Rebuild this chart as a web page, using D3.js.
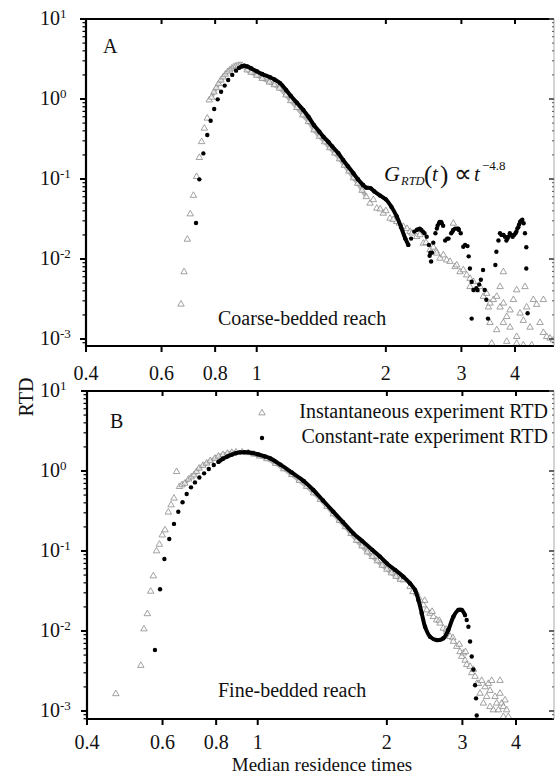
<!DOCTYPE html>
<html><head><meta charset="utf-8">
<script src="https://cdn.jsdelivr.net/npm/d3@7"></script>
<style>
body{margin:0;background:#fff}
svg{display:block}
text{font-family:"Liberation Serif","Times New Roman",serif;fill:#111}
</style>
</head><body>
<svg id="c" width="555" height="775"></svg>
<script>
// ---- tick values / labels ----
const xTickValues = [0.4, 0.6, 0.8, 1, 2, 3, 4];
const xTickLabels = ["0.4", "0.6", "0.8", "1", "2", "3", "4"];
const yTickValues = [10, 1, 0.1, 0.01, 0.001];
const yTickExponents = ["1", "0", "-1", "-2", "-3"];

// ---- Panel A: coarse-bedded reach ----
const aInstT = [0.666,0.677,0.689,0.700,0.712,0.724,0.735,0.744,0.755,0.767,0.775,
 0.785,0.795,0.805,0.815,0.825,0.835,0.845,0.855,0.865,0.875,0.885,0.895,0.905,0.915,0.925,
 0.95,0.97,1.0,1.03,1.07,1.1,1.13,1.17,1.2,1.24,1.28,1.32,1.36,1.4,1.44,1.48,1.52,1.56,1.6,1.64,1.68,1.72,1.76,1.8,
 1.837,1.87,1.905,1.94,1.973,2.0,2.045,2.08,2.12,2.15,2.197,2.24,2.277,2.3,2.36,2.4,2.445,2.48,2.535,2.58,2.62,2.627,
 2.675,2.723,2.772,2.822,2.873,2.899,2.925,2.978,3.031,3.086,3.142,3.142,3.199,3.256,3.315,3.375,3.436,3.467,3.498,
 3.498,3.53,3.562,3.626,3.692,3.692,3.758,3.758,3.826,3.826,3.895,3.966,4.036,4.036,4.11,4.183,4.221,4.258,4.336,
 4.414,4.493,4.575,4.658,4.658,4.741,4.828,4.915,3.626,3.758,3.895,4.036,4.183,4.375];
const aInstV = [0.00272,0.0069,0.0176,0.0365,0.0622,0.107,0.185,0.292,0.43,0.574,0.97,
 1.05,1.22,1.38,1.55,1.72,1.88,2.03,2.18,2.3,2.42,2.52,2.58,2.62,2.64,2.62,
 2.3,2.15,1.97,1.8,1.62,1.5,1.36,1.12,0.95,0.78,0.63,0.52,0.41,0.34,0.29,0.245,0.21,0.178,0.148,0.125,0.103,0.088,0.072,0.06,
 0.0497,0.055,0.043,0.042,0.0372,0.04,0.0322,0.031,0.0293,0.028,0.0254,0.024,0.022,0.021,0.019,0.02,0.0157,0.016,0.013,0.014,0.0125,0.0118,
 0.0102,0.0112,0.0097,0.0093,0.0279,0.008,0.0084,0.0069,0.0073,0.0063,0.0057,0.0045,0.0052,0.0041,0.0045,0.0034,0.0037,0.0025,0.0028,
 0.0016,0.00088,0.0031,0.0034,0.0045,0.0025,0.0069,0.0028,0.0019,0.00093,0.0023,0.0031,0.0041,0.00107,0.0021,0.0017,0.0045,0.0025,0.0014,
 0.0031,0.0027,0.0016,0.0031,0.0012,0.00107,0.00102,0.00097,0.0013,0.0016,0.0014,0.00088,0.00084,0.00084];

const aConstT = [0.722,0.735,0.751,0.767,0.781,0.796,0.811,0.826,0.842,0.858,0.877,0.895,
 0.91,0.925,0.936,0.95,0.97,1.0,1.03,1.074,1.1,1.133,1.17,1.2,1.24,1.284,1.32,1.36,1.4,1.43,1.47,1.5,1.55,1.59,1.63,1.68,1.72,1.77,1.8,1.84,1.88,1.94,2.0,2.06,2.12,2.17,2.22,2.256,
 2.29,2.33,2.36,2.38,2.4,2.42,2.44,2.46,2.49,2.52,2.53,2.54,2.55,2.56,2.58,2.61,2.63,2.64,2.66,2.67,2.69,2.7,2.72,2.75,2.78,2.8,2.84,2.86,2.87,2.9,2.93,2.95,2.96,2.99,3.03,3.06,3.1,3.12,3.14,3.17,3.2,3.25,3.27,3.3,3.33,3.37,3.4,3.43,3.46,3.17,
 3.6,3.62,3.66,3.69,3.72,3.74,3.76,3.79,3.82,3.84,3.86,3.89,3.92,3.95,3.98,4.01,4.03,4.05,4.07,4.09,4.11,4.13,4.16,4.19,4.22,4.25,4.25,4.28];
const aConstV = [0.0282,0.099,0.209,0.355,0.535,0.75,0.99,1.23,1.47,1.73,2.0,2.26,
 2.45,2.57,2.61,2.55,2.42,2.22,2.05,1.87,1.75,1.58,1.3,1.1,0.9,0.73,0.6,0.47,0.39,0.338,0.29,0.255,0.21,0.173,0.145,0.118,0.1,0.084,0.078,0.077,0.07,0.062,0.0557,0.045,0.034,0.025,0.018,0.015,
 0.018,0.022,0.023,0.0235,0.024,0.023,0.022,0.021,0.019,0.015,0.011,0.012,0.0093,0.012,0.016,0.021,0.024,0.026,0.028,0.029,0.029,0.028,0.026,0.017,0.018,0.018,0.021,0.022,0.023,0.024,0.024,0.024,0.023,0.021,0.0142,0.015,0.0145,0.0108,0.0076,0.0052,0.0041,0.0043,0.0041,0.0048,0.0055,0.0073,0.0041,0.0031,0.0018,0.0018,
 0.0084,0.0123,0.017,0.021,0.02,0.02,0.02,0.019,0.017,0.018,0.019,0.021,0.02,0.019,0.02,0.021,0.022,0.024,0.025,0.027,0.029,0.03,0.031,0.028,0.021,0.014,0.0076,0.0021];

// ---- Panel B: fine-bedded reach ----
const bInstT = [0.467,0.534,0.543,0.553,0.563,0.571,0.581,0.59,0.599,0.608,0.619,0.628,0.638,0.647,0.657,0.666,0.676,0.69,0.70,0.71,0.72,0.73,0.745,0.76,0.775,0.795,0.81,0.83,0.85,0.87,0.89,0.92,0.95,
 0.98,1.01,1.05,1.1,1.15,1.2,1.25,1.3,1.35,1.4,1.45,1.5,1.55,1.6,1.65,1.7,1.75,1.8,1.85,1.9,1.95,2.0,2.05,2.1,2.15,
 2.185,2.265,2.3,2.348,2.39,2.433,2.45,2.477,2.521,2.55,2.567,2.613,2.65,2.661,2.708,2.75,2.757,2.807,2.85,2.858,2.909,2.95,2.962,2.989,3.016,3.043,3.05,3.07,3.126,3.154,3.182,3.211,3.24,3.269,3.298,3.328,3.357,3.388,3.418,3.449,3.479,3.479,3.511,3.542,3.574,3.606,3.639,3.671,3.671,3.704,3.737,3.737,3.771,3.805,3.839];
const bInstV = [0.00164,0.0037,0.0106,0.0164,0.0313,0.0487,0.1,0.121,0.158,0.183,0.305,0.376,0.456,0.98,0.637,0.67,0.70,0.79,0.84,0.89,0.98,1.08,1.17,1.25,1.34,1.44,1.53,1.6,1.66,1.7,1.72,1.72,1.69,
 1.62,1.53,1.42,1.24,1.06,0.9,0.76,0.64,0.53,0.44,0.36,0.29,0.24,0.2,0.165,0.135,0.115,0.097,0.085,0.075,0.066,0.059,0.053,0.048,0.044,
 0.0434,0.0358,0.031,0.0296,0.0244,0.0211,0.024,0.0183,0.0166,0.0175,0.0151,0.0137,0.0135,0.0125,0.0108,0.0105,0.0098,0.0085,0.0082,0.0074,0.0064,0.0068,0.0055,0.0048,0.0053,0.0043,0.0055,0.0038,0.0036,0.003,0.0033,0.0027,0.0022,0.0022,0.00166,0.0024,0.00125,0.002,0.00151,0.0022,0.0018,0.00113,0.0024,0.00103,0.00151,0.00125,0.00103,0.0024,0.00166,0.00125,0.00113,0.00085,0.00137,0.00103,0.00085];

const bConstT = [0.576,0.592,0.606,0.622,0.638,0.653,0.668,0.683,0.699,0.714,0.731,0.75,0.769,0.79,
 0.81,0.83,0.85,0.87,0.89,0.91,0.93,0.95,0.97,1.0,1.04,1.07,1.13,1.2,1.28,1.348,1.42,1.5,1.58,1.671,1.75,1.85,1.928,2.0,2.09,2.185,2.265,2.327,2.369,2.412,2.455,2.521,2.613,2.708,2.782,2.858,2.935,2.989,3.043,
 3.07,3.098,3.126,3.154,3.182,3.211,3.228,3.24];
const bConstV = [0.0058,0.0332,0.0794,0.141,0.218,0.31,0.406,0.516,0.625,0.72,0.83,0.935,1.06,1.19,
 1.3,1.42,1.52,1.6,1.67,1.71,1.72,1.71,1.68,1.62,1.52,1.44,1.2,0.96,0.75,0.579,0.428,0.311,0.23,0.166,0.134,0.103,0.085,0.07,0.058,0.0478,0.0394,0.0326,0.0244,0.0166,0.0113,0.0085,0.0077,0.0081,0.0103,0.0151,0.0183,0.0183,0.0158,
 0.0137,0.0113,0.0074,0.0048,0.0033,0.0021,0.00144,0.00088];

const legendLabels = ["Instantaneous experiment RTD", "Constant-rate experiment RTD"];

// ---- drawing ----
const svg = d3.select("#c");
const zip = (t, v) => t.map((d, i) => ({t: d, v: v[i]}));

const panels = [
  {id:"A", left:86, top:19, bottom:346, right:554, yLow:Math.pow(10,-3.0875),
   inst:zip(aInstT,aInstV), cons:zip(aConstT,aConstV),
   instLine:[0.78,1.8], consLine:[0.9,2.256], tickLabelY:380,
   letter:[103,53], reach:"Coarse-bedded reach", reachPos:[218,325]},
  {id:"B", left:87, top:391, bottom:719, right:554, yLow:Math.pow(10,-3.1),
   inst:zip(bInstT,bInstV), cons:zip(bConstT,bConstV),
   instLine:[0.66,2.15], consLine:[0.8,3.05], tickLabelY:749,
   letter:[110,428], reach:"Fine-bedded reach", reachPos:[218,697]}
];

panels.forEach((p, pi) => {
  const x = d3.scaleLog().domain([0.4, 4]).range([p.left, p.left + 429]);
  const y = d3.scaleLog().domain([10, 0.001]).range([p.top, p.top + 320]);
  const g = svg.append("g");
  const clipId = "clip" + p.id;
  svg.append("clipPath").attr("id", clipId).append("rect")
    .attr("x", p.left).attr("y", p.top).attr("width", p.right - p.left).attr("height", p.bottom - p.top);
  const plot = g.append("g").attr("clip-path", `url(#${clipId})`);

  const line = d3.line().x(d => x(d.t)).y(d => y(d.v)).curve(d3.curveCatmullRom);
  plot.append("path").datum(p.inst.filter(d => d.t >= p.instLine[0] && d.t <= p.instLine[1]))
    .attr("d", line).attr("fill", "none").attr("stroke", "#b8b8b8").attr("stroke-width", 4)
    .attr("stroke-linejoin", "round");
  plot.selectAll(".tri").data(p.inst).enter().append("path")
    .attr("transform", d => `translate(${x(d.t)},${y(d.v)})`)
    .attr("d", d3.symbol(d3.symbolTriangle, 18))
    .attr("fill", "#fff").attr("fill-opacity", 0.6).attr("stroke", "#8a8a8a").attr("stroke-width", 0.8);
  plot.append("path").datum(p.cons.filter(d => d.t >= p.consLine[0] && d.t <= p.consLine[1]))
    .attr("d", line).attr("fill", "none").attr("stroke", "#000").attr("stroke-width", 4)
    .attr("stroke-linejoin", "round").attr("stroke-linecap", "round");
  plot.selectAll(".dot").data(p.cons).enter().append("circle")
    .attr("cx", d => x(d.t)).attr("cy", d => y(d.v)).attr("r", 2.2).attr("fill", "#000");

  // frame
  const fr = g.append("g").attr("stroke", "#000").attr("stroke-width", 2.2).attr("fill", "none");
  fr.append("line").attr("x1", p.left).attr("x2", p.right).attr("y1", p.top).attr("y2", p.top);
  fr.append("line").attr("x1", p.left).attr("x2", p.right).attr("y1", p.bottom).attr("y2", p.bottom);
  fr.append("line").attr("x1", p.left).attr("x2", p.left).attr("y1", p.top - 1).attr("y2", p.bottom + 1);
  g.append("line").attr("x1", p.right).attr("x2", p.right).attr("y1", p.top).attr("y2", p.bottom)
    .attr("stroke", "#aaa").attr("stroke-width", 1);

  xTickValues.forEach((v, i) => {
    const xx = x(v);
    g.append("line").attr("x1", xx).attr("x2", xx).attr("y1", p.top).attr("y2", p.top + 5)
      .attr("stroke", "#000").attr("stroke-width", 2);
    g.append("line").attr("x1", xx).attr("x2", xx).attr("y1", p.bottom).attr("y2", p.bottom + 6)
      .attr("stroke", "#000").attr("stroke-width", 2);
    g.append("text").attr("x", xx).attr("y", p.tickLabelY).attr("text-anchor", "middle")
      .attr("font-size", 20).text(xTickLabels[i]);
  });

  const [yl, yh] = [p.yLow, 10];
  for (let e = -4; e <= 1; e++) {
    for (let m = 1; m <= 9; m++) {
      const v = m * Math.pow(10, e);
      if (v < yl * 0.999 || v > yh * 1.001) continue;
      const yy = y(v);
      const major = m === 1;
      g.append("line").attr("x1", p.left - (major ? 6 : 3.5)).attr("x2", p.left).attr("y1", yy).attr("y2", yy)
        .attr("stroke", "#000").attr("stroke-width", major ? 2 : 1.2);
      g.append("line").attr("x1", p.right - (major ? 5 : 2)).attr("x2", p.right).attr("y1", yy).attr("y2", yy)
        .attr("stroke", "#555").attr("stroke-width", major ? 1.8 : 1);
    }
  }
  yTickValues.forEach((v, i) => {
    const yy = y(v);
    const t = g.append("text").attr("x", 40).attr("y", yy + 6).attr("font-size", 20);
    t.append("tspan").text("10");
    t.append("tspan").attr("font-size", 13).attr("dy", -7).text(yTickExponents[i]);
  });

  g.append("text").attr("x", p.letter[0]).attr("y", p.letter[1]).attr("font-size", 20).text(p.id);
  g.append("text").attr("x", p.reachPos[0]).attr("y", p.reachPos[1]).attr("font-size", 20).text(p.reach);
});

// annotation in panel A
const ann = svg.append("g");
ann.append("text").attr("x", 384).attr("y", 181).attr("font-size", 22).attr("font-style", "italic").text("G");
ann.append("text").attr("x", 401).attr("y", 185).attr("font-size", 12.5).attr("font-style", "italic").text("RTD");
ann.append("text").attr("x", 424).attr("y", 183).attr("font-size", 25).text("(");
ann.append("text").attr("x", 432).attr("y", 181).attr("font-size", 21).attr("font-style", "italic").text("t");
ann.append("text").attr("x", 440).attr("y", 183).attr("font-size", 25).text(")");
ann.append("text").attr("x", 454).attr("y", 182).attr("font-size", 25).text("\u221D");
ann.append("text").attr("x", 474).attr("y", 181).attr("font-size", 21).attr("font-style", "italic").text("t");
ann.append("text").attr("x", 482).attr("y", 170).attr("font-size", 13).text("\u22124.8");

// legend in panel B
const leg = svg.append("g");
leg.append("path").attr("transform", "translate(262,413)").attr("d", d3.symbol(d3.symbolTriangle, 18))
  .attr("fill", "#fff").attr("stroke", "#8a8a8a").attr("stroke-width", 0.8);
leg.append("circle").attr("cx", 262).attr("cy", 438).attr("r", 2.2).attr("fill", "#000");
leg.append("text").attr("x", 548).attr("y", 418).attr("text-anchor", "end").attr("font-size", 20).text(legendLabels[0]);
leg.append("text").attr("x", 548).attr("y", 443).attr("text-anchor", "end").attr("font-size", 20).text(legendLabels[1]);

// axis titles
svg.append("text").attr("transform", "translate(33,397) rotate(-90)").attr("text-anchor", "middle")
  .attr("font-size", 20).text("RTD");
svg.append("text").attr("x", 322).attr("y", 770.5).attr("text-anchor", "middle").attr("font-size", 19)
  .text("Median residence times");
</script>
</body></html>
